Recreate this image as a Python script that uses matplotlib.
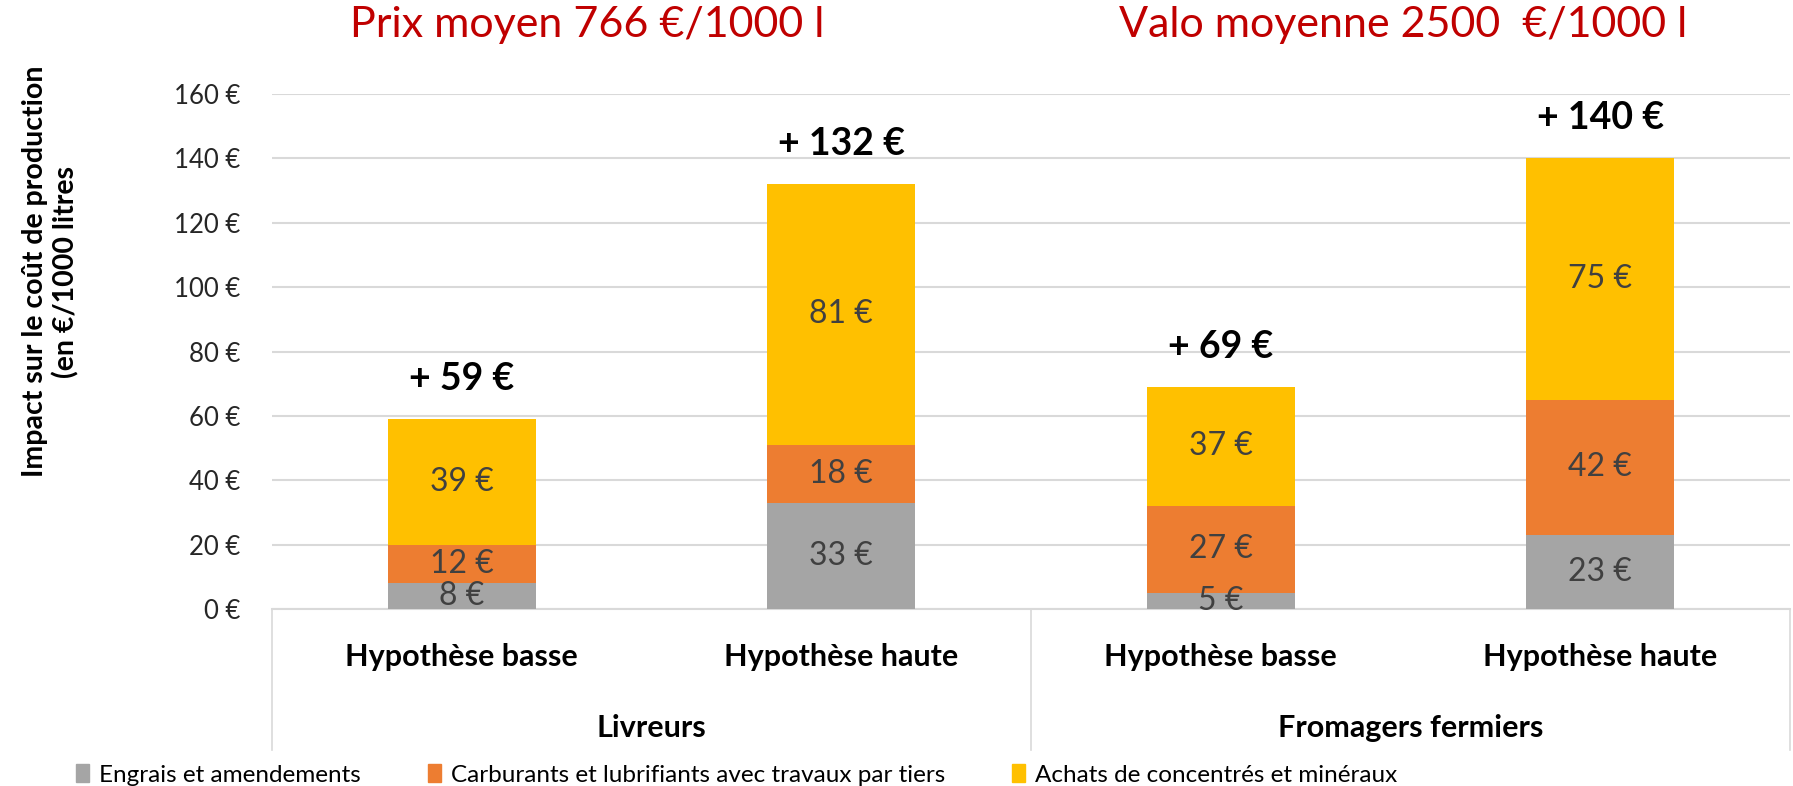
#!/usr/bin/env python3
# Impact sur le coût de production - barres empilées par hypothèse
import numpy as np
import matplotlib
matplotlib.use('Agg')
import matplotlib.pyplot as plt
from matplotlib.transforms import blended_transform_factory
from matplotlib.patches import Rectangle

plt.rcParams['font.family'] = ['Lato', 'DejaVu Sans']

scenarios = ['Hypothèse basse', 'Hypothèse haute', 'Hypothèse basse', 'Hypothèse haute']
groups = ['Livreurs', 'Fromagers fermiers']
series = ['Engrais et amendements',
          'Carburants et lubrifiants avec travaux par tiers',
          'Achats de concentrés et minéraux']
engrais = [8, 33, 5, 23]
carburants = [12, 18, 27, 42]
concentres = [39, 81, 37, 75]
totals = [59, 132, 69, 140]
titles = ['Prix moyen 766 €/1000 l', 'Valo moyenne 2500  €/1000 l']
yticks = [0, 20, 40, 60, 80, 100, 120, 140, 160]

colors = ['#A5A5A5', '#ED7D31', '#FFC000']

W, H = 1793, 786
fig = plt.figure(figsize=(W / 100, H / 100), dpi=100)
ax = fig.add_axes([272 / W, (H - 609) / H, (1790 - 272) / W, (609 - 94) / H])

x = np.arange(len(scenarios))
bottom = np.zeros(len(x))
for vals, col in zip([engrais, carburants, concentres], colors):
    vals = np.array(vals, dtype=float)
    ax.bar(x, vals, 0.39, bottom=bottom, color=col, zorder=3)
    for xi, b, v in zip(x, bottom, vals):
        ax.text(xi, b + v / 2, f'{int(v)} €', ha='center', va='center',
                fontsize=23, color='#404040', zorder=4)
    bottom += vals

for xi, t in zip(x, totals):
    ax.annotate(f'+ {t} €', (xi, t), xytext=(0, 40), textcoords='offset pixels',
                ha='center', va='center', fontsize=27, fontweight='bold', color='black')

ax.set_xlim(-0.5, len(x) - 0.5)
ax.set_ylim(0, 160)
ax.set_yticks(yticks)
ax.set_yticklabels([f'{v} €' for v in yticks], fontsize=18.5, color='#262626')
ax.tick_params(axis='y', length=0, pad=23)
ax.tick_params(axis='x', length=0, labelbottom=False)
ax.grid(axis='y', color='#D9D9D9', lw=1.5, zorder=0)
for s in ['top', 'right', 'left']:
    ax.spines[s].set_visible(False)
ax.spines['bottom'].set_color('#D9D9D9')
ax.spines['bottom'].set_linewidth(1.5)

ax.set_ylabel('Impact sur le coût de production\n(en €/1000 litres', fontsize=20.5,
              fontweight='bold', linespacing=1.2)
ax.yaxis.set_label_coords(-0.127, 0.655)

# étiquettes de catégories à deux niveaux
tr = blended_transform_factory(ax.transData, fig.transFigure)
for xi, lab in zip(x, scenarios):
    ax.text(xi, (H - 657) / H, lab, transform=tr, ha='center', va='center',
            fontsize=22, fontweight='bold', color='black')
for gi, g in enumerate(groups):
    ax.text(2 * gi + 0.5, (H - 728) / H, g, transform=tr, ha='center', va='center',
            fontsize=22, fontweight='bold', color='black')
tra = blended_transform_factory(ax.transData, ax.transAxes)
for xs in [-0.5, 1.5, 3.5]:
    ax.plot([xs, xs], [0, -(750 - 609) / (609 - 94)], transform=tra, color='#D9D9D9',
            lw=1.2, clip_on=False)

# titres en rouge
for gi, t in enumerate(titles):
    ax.text([0.33, 2.48][gi], (H - 25) / H, t, transform=tr, ha='center', va='center',
            fontsize=31, color='#C00000')

# légende
handles = [Rectangle((0, 0), 1, 1, color=c) for c in colors]
fig.legend(handles, series, loc='center left', bbox_to_anchor=(76 / W, (H - 775) / H),
           ncol=3, frameon=False, fontsize=17.5, handlelength=0.55, handleheight=0.7,
           handletextpad=0.4, columnspacing=2.75, borderaxespad=0, borderpad=0)

plt.savefig('out.png', dpi=100)
plt.close()
